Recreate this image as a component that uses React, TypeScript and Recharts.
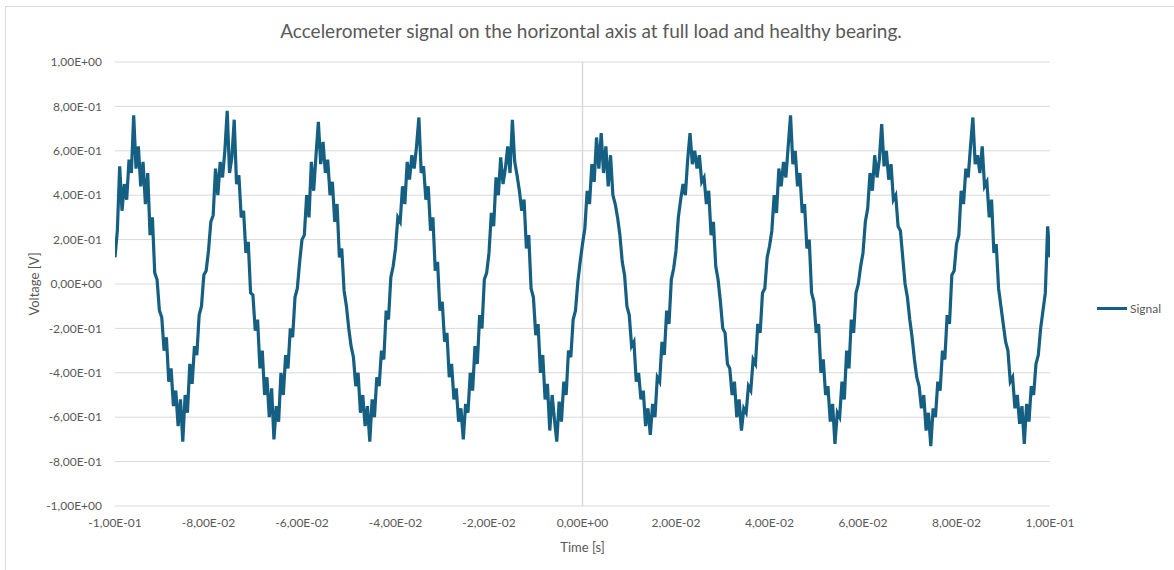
import { LineChart, Line, XAxis, YAxis, CartesianGrid, ReferenceLine, Legend } from 'recharts';

// sampling of the trace (one value every 0.5 ms, starting at -0.1 s)
const T_START = -0.1;
const SAMPLE_PERIOD = 0.0005;

// voltage samples, one array per 20 ms period
const cycle1 = [0.12, 0.24, 0.53, 0.33, 0.45, 0.38, 0.56, 0.50, 0.76, 0.52, 0.62, 0.44, 0.55, 0.36, 0.50, 0.22, 0.30, 0.05, 0.02, -0.12, -0.15, -0.30, -0.24, -0.44, -0.38, -0.55, -0.48, -0.64, -0.52, -0.71, -0.50, -0.58, -0.36, -0.45, -0.28, -0.32, -0.14, -0.10, 0.04, 0.06];
const cycle2 = [0.15, 0.28, 0.31, 0.52, 0.40, 0.55, 0.48, 0.60, 0.78, 0.50, 0.57, 0.74, 0.45, 0.49, 0.30, 0.33, 0.14, 0.19, -0.04, -0.05, -0.21, -0.16, -0.38, -0.30, -0.50, -0.42, -0.60, -0.47, -0.70, -0.55, -0.62, -0.40, -0.50, -0.32, -0.38, -0.20, -0.24, -0.06, -0.02, 0.10];
const cycle3 = [0.20, 0.22, 0.40, 0.30, 0.55, 0.42, 0.58, 0.73, 0.54, 0.64, 0.50, 0.56, 0.40, 0.46, 0.28, 0.36, 0.12, 0.16, -0.03, -0.10, -0.20, -0.28, -0.33, -0.46, -0.40, -0.58, -0.50, -0.64, -0.55, -0.71, -0.52, -0.60, -0.42, -0.46, -0.30, -0.34, -0.12, -0.16, 0.03, 0.08];
const cycle4 = [0.16, 0.30, 0.28, 0.44, 0.36, 0.55, 0.47, 0.58, 0.52, 0.62, 0.75, 0.50, 0.53, 0.38, 0.44, 0.24, 0.30, 0.06, 0.10, -0.12, -0.08, -0.26, -0.22, -0.42, -0.36, -0.52, -0.47, -0.62, -0.56, -0.70, -0.54, -0.58, -0.40, -0.48, -0.28, -0.36, -0.14, -0.20, 0.02, 0.05];
const cycle5 = [0.14, 0.32, 0.26, 0.48, 0.40, 0.57, 0.45, 0.52, 0.62, 0.50, 0.74, 0.55, 0.49, 0.42, 0.33, 0.38, 0.16, 0.22, -0.02, -0.06, -0.23, -0.18, -0.40, -0.32, -0.52, -0.45, -0.66, -0.50, -0.61, -0.71, -0.53, -0.62, -0.44, -0.50, -0.30, -0.33, -0.16, -0.12, 0.01, 0.10];
const cycle6 = [0.18, 0.25, 0.42, 0.36, 0.54, 0.46, 0.66, 0.52, 0.68, 0.50, 0.62, 0.44, 0.58, 0.40, 0.36, 0.30, 0.22, 0.10, 0.04, -0.10, -0.14, -0.28, -0.26, -0.44, -0.40, -0.52, -0.48, -0.64, -0.56, -0.68, -0.54, -0.60, -0.42, -0.44, -0.26, -0.32, -0.12, -0.18, 0.02, 0.07];
const cycle7 = [0.15, 0.30, 0.38, 0.45, 0.40, 0.56, 0.68, 0.54, 0.60, 0.52, 0.58, 0.46, 0.48, 0.36, 0.42, 0.22, 0.28, 0.08, 0.02, -0.08, -0.20, -0.22, -0.36, -0.38, -0.50, -0.44, -0.60, -0.52, -0.66, -0.56, -0.58, -0.46, -0.48, -0.34, -0.36, -0.18, -0.22, -0.04, -0.02, 0.12];
const cycle8 = [0.17, 0.24, 0.40, 0.32, 0.52, 0.44, 0.55, 0.48, 0.62, 0.76, 0.54, 0.60, 0.44, 0.50, 0.32, 0.36, 0.16, 0.20, -0.04, -0.08, -0.22, -0.18, -0.40, -0.34, -0.50, -0.46, -0.62, -0.54, -0.72, -0.58, -0.60, -0.44, -0.52, -0.30, -0.38, -0.16, -0.22, -0.04, 0.00, 0.08];
const cycle9 = [0.14, 0.28, 0.34, 0.50, 0.42, 0.58, 0.48, 0.56, 0.72, 0.53, 0.60, 0.47, 0.54, 0.38, 0.40, 0.26, 0.24, 0.12, 0.00, -0.06, -0.16, -0.24, -0.34, -0.42, -0.46, -0.56, -0.50, -0.66, -0.58, -0.73, -0.56, -0.60, -0.44, -0.48, -0.30, -0.34, -0.14, -0.18, 0.04, 0.06];
const cycle10 = [0.18, 0.22, 0.42, 0.36, 0.52, 0.48, 0.62, 0.75, 0.54, 0.58, 0.50, 0.62, 0.44, 0.46, 0.30, 0.38, 0.14, 0.18, -0.02, -0.10, -0.18, -0.26, -0.30, -0.44, -0.42, -0.56, -0.50, -0.63, -0.55, -0.72, -0.54, -0.62, -0.46, -0.50, -0.36, -0.32, -0.20, -0.12, -0.04, 0.26];
const lastSample = [0.12];

const X_TICKS = [-0.1, -0.08, -0.06, -0.04, -0.02, 0, 0.02, 0.04, 0.06, 0.08, 0.1];
const Y_TICKS = [-1, -0.8, -0.6, -0.4, -0.2, 0, 0.2, 0.4, 0.6, 0.8, 1];

const signal = [...cycle1, ...cycle2, ...cycle3, ...cycle4, ...cycle5, ...cycle6, ...cycle7, ...cycle8, ...cycle9, ...cycle10, ...lastSample];
const data = signal.map((v, i) => ({ t: Number((T_START + i * SAMPLE_PERIOD).toFixed(5)), v }));

const FONT = 'Lato, "Open Sans", sans-serif';
const TEXT = '#595959';
const GRID = '#d9d9d9';
const LINE = '#156082';

// excel style "1,00E-01"
function sci(v: number) {
    if (Math.abs(v) < 1e-12) return '0,00E+00';
    let e = Math.floor(Math.log10(Math.abs(v)) + 1e-9);
    let m = v / Math.pow(10, e);
    if (Math.abs(Number(m.toFixed(2))) >= 10) {
        e += 1;
        m = m / 10;
    }
    const sign = e < 0 ? '-' : '+';
    return m.toFixed(2).replace('.', ',') + 'E' + sign + String(Math.abs(e)).padStart(2, '0');
}

function LegendBox() {
    return (
        <div style={{ display: 'flex', alignItems: 'center', fontFamily: FONT, fontSize: 12, color: TEXT, whiteSpace: 'nowrap' }}>
            <div style={{ width: 30, height: 3, background: LINE, marginRight: 3 }} />
            <span>Signal</span>
        </div>
    );
}

export default function App() {
    return (
        <div style={{ position: 'absolute', left: 0, top: 0, width: 1174, height: 570, overflow: 'hidden', background: '#fff' }}>
            {/* outer chart frame (right/bottom edges fall outside the shot) */}
            <div style={{ position: 'absolute', left: 5, top: 6, width: 1200, height: 600, border: '1px solid #d9d9d9' }} />
            <div
                style={{
                    position: 'absolute',
                    left: 0,
                    top: 19,
                    width: 1182,
                    textAlign: 'center',
                    fontFamily: FONT,
                    fontSize: 19,
                    color: TEXT,
                }}
            >
                Accelerometer signal on the horizontal axis at full load and healthy bearing.
            </div>
            <div style={{ position: 'absolute', left: 0, top: 0 }}>
                <LineChart width={1174} height={570} data={data} margin={{ top: 62, right: 24, bottom: 14, left: 0 }}>
                    <CartesianGrid vertical={false} stroke={GRID} strokeWidth={1} />
                    <XAxis
                        type="number"
                        dataKey="t"
                        domain={[-0.1, 0.1]}
                        ticks={X_TICKS}
                        tickFormatter={sci}
                        axisLine={false}
                        tickLine={false}
                        tickMargin={6}
                        height={50}
                        tick={{ fill: TEXT, fontSize: 12, fontFamily: FONT }}
                        label={{ value: 'Time [s]', position: 'insideBottom', offset: 4, fill: TEXT, fontSize: 13, fontFamily: FONT }}
                        allowDataOverflow
                    />
                    <YAxis
                        type="number"
                        domain={[-1, 1]}
                        ticks={Y_TICKS}
                        tickFormatter={sci}
                        axisLine={false}
                        tickLine={false}
                        tickMargin={7}
                        width={115}
                        tick={{ fill: TEXT, fontSize: 12, fontFamily: FONT }}
                        label={{
                            value: 'Voltage [V]',
                            angle: -90,
                            position: 'insideLeft',
                            offset: 34,
                            fill: TEXT,
                            fontSize: 13,
                            fontFamily: FONT,
                            style: { textAnchor: 'middle' },
                        }}
                    />
                    <ReferenceLine x={0} stroke={GRID} strokeWidth={1.5} />
                    <Legend
                        layout="vertical"
                        align="right"
                        verticalAlign="middle"
                        width={100}
                        wrapperStyle={{ top: 301, right: 'auto', left: 1097 }}
                        content={() => <LegendBox />}
                    />
                    <Line
                        type="linear"
                        dataKey="v"
                        name="Signal"
                        stroke={LINE}
                        strokeWidth={3.2}
                        strokeLinejoin="miter"
                        dot={false}
                        activeDot={false}
                        isAnimationActive={false}
                    />
                </LineChart>
            </div>
        </div>
    );
}
